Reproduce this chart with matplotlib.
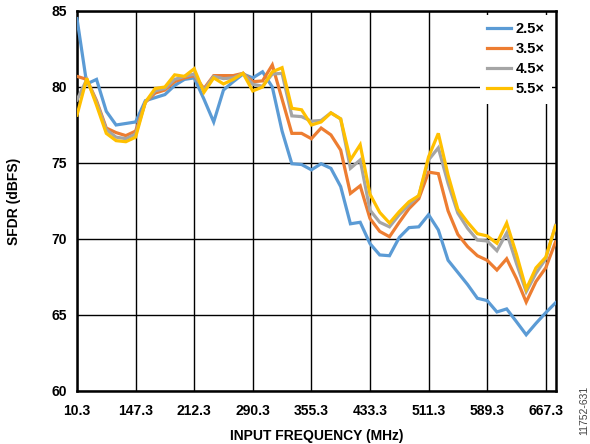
import matplotlib
matplotlib.use("Agg")
import matplotlib.pyplot as plt
import numpy as np

plt.rcParams['font.family'] = ['Liberation Sans', 'DejaVu Sans']

tick_labels = ["10.3", "147.3", "212.3", "290.3", "355.3", "433.3", "511.3", "589.3", "667.3"]
series_names = ["2.5×", "3.5×", "4.5×", "5.5×"]

sfdr_2p5 = [84.5, 80.2, 80.5, 78.4, 77.5, 77.6, 77.7, 79.1, 79.3, 79.5,
            80.1, 80.5, 80.6, 79.2, 77.7, 79.8, 80.35, 80.85, 80.6, 81.0,
            80.0, 77.1, 74.95, 74.9, 74.55, 74.95, 74.65, 73.45, 71.0, 71.1,
            69.7, 68.95, 68.9, 70.1, 70.75, 70.8, 71.6, 70.6, 68.6, 67.8,
            67.0, 66.1, 65.95, 65.2, 65.4, 64.56, 63.7, 64.45, 65.15, 65.8]
sfdr_3p5 = [80.7, 80.5, 79.1, 77.3, 77.0, 76.8, 77.1, 79.0, 79.6, 79.8,
            80.35, 80.6, 80.75, 79.9, 80.75, 80.75, 80.75, 80.9, 80.35, 80.4,
            81.45, 79.2, 76.95, 76.95, 76.6, 77.3, 76.85, 75.85, 73.0, 73.5,
            71.35, 70.5, 70.15, 71.1, 72.0, 72.65, 74.4, 74.3, 71.85, 70.3,
            69.5, 68.9, 68.6, 67.96, 68.7, 67.4, 65.85, 67.2, 68.1, 69.8]
sfdr_4p5 = [79.15, 80.5, 79.0, 77.2, 76.7, 76.6, 76.9, 79.0, 79.75, 79.9,
            80.5, 80.7, 80.85, 79.8, 80.7, 80.55, 80.6, 80.9, 80.18, 80.05,
            80.85, 80.9, 78.1, 78.05, 77.75, 77.8, 78.3, 77.9, 74.65, 75.2,
            71.9, 71.1, 70.8, 71.6, 72.25, 72.85, 75.2, 76.0, 73.66, 71.7,
            70.7, 69.93, 69.87, 69.23, 70.4, 68.4, 66.53, 67.74, 68.7, 70.9]
sfdr_5p5 = [78.15, 80.57, 78.8, 76.95, 76.47, 76.4, 76.7, 79.0, 79.9, 80.0,
            80.8, 80.7, 81.2, 79.65, 80.6, 80.2, 80.5, 80.9, 79.74, 80.0,
            81.0, 81.27, 78.6, 78.5, 77.5, 77.7, 78.3, 77.9, 75.2, 76.2,
            72.95, 71.75, 71.05, 71.8, 72.45, 72.85, 75.4, 76.95, 74.2, 71.95,
            71.1, 70.35, 70.2, 69.72, 71.05, 69.0, 66.7, 68.1, 68.8, 70.85]

colors = ["#5B9BD5", "#ED7D31", "#A5A5A5", "#FFC000"]
all_series = [sfdr_2p5, sfdr_3p5, sfdr_4p5, sfdr_5p5]

fig = plt.figure(figsize=(5.9, 4.44), dpi=100)
ax = fig.add_axes([77/590, 1-391/444, (555.5-77)/590, (391-11)/444])

x = np.arange(len(sfdr_2p5))
for s, c, n in zip(all_series, colors, series_names):
    ax.plot(x, s, color=c, lw=2.3, label=n, solid_joinstyle='miter', zorder=3)

ax.set_xlim(0, len(x) - 1)
ax.set_ylim(60, 85)
tick_pos = np.arange(0, len(x), 6)
ax.set_xticks(tick_pos)
ax.set_xticklabels(tick_labels, fontsize=10, fontweight='bold')
ax.set_yticks([60, 65, 70, 75, 80, 85])
ax.set_yticklabels(["60", "65", "70", "75", "80", "85"], fontsize=10, fontweight='bold')
ax.grid(True, color='#000000', lw=1.0, zorder=1)
ax.tick_params(axis='x', length=0, pad=9)
ax.tick_params(axis='y', length=0, pad=7)
for sp in ax.spines.values():
    sp.set_linewidth(1.8)
    sp.set_color('black')

ax.set_xlabel("INPUT FREQUENCY (MHz)", fontsize=10, fontweight='bold', labelpad=8)
ax.set_ylabel("SFDR (dBFS)", fontsize=10, fontweight='bold', labelpad=22)

leg = ax.legend(loc='upper right', frameon=True, handlelength=1.65,
                handletextpad=0.3, labelspacing=0.42, borderaxespad=0.25,
                borderpad=0.5, fancybox=False, prop={'weight': 'bold', 'size': 10.5})
leg.get_frame().set_edgecolor('none')
leg.get_frame().set_facecolor('white')
leg.get_frame().set_alpha(1)
leg.set_zorder(5)

fig.text(0.991, 1 - 410/444, "11752-631", rotation=90, fontsize=7.5, color='#444444',
         ha='center', va='center')

fig.savefig("out.png", dpi=100)
